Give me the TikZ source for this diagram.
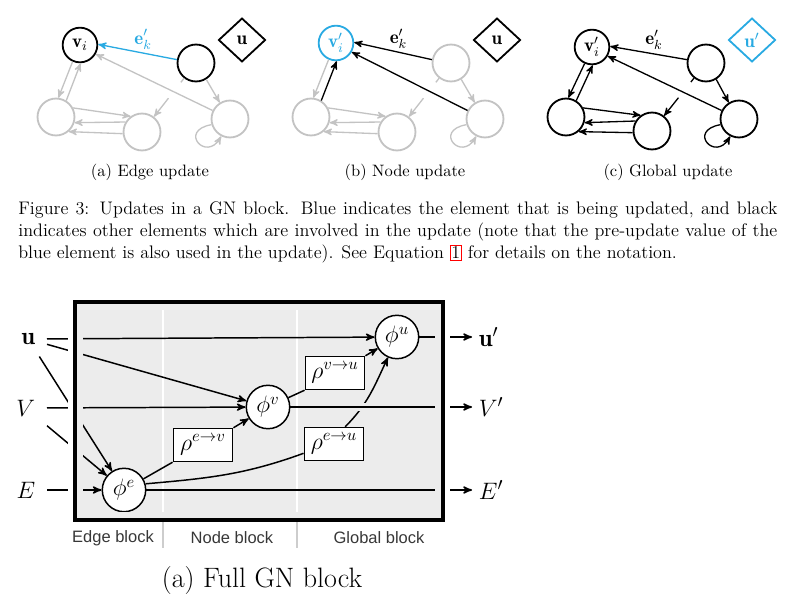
\documentclass[tikz,border=0pt]{standalone}
\usepackage{amsmath}
\usepackage{amssymb}
\usepackage{fontspec}
\usepackage{tikz}
\usetikzlibrary{arrows,shapes.geometric,calc}
\newfontfamily\blockfont{Liberation Sans}
\definecolor{gnblue}{RGB}{41,170,226}
\definecolor{gnlight}{RGB}{195,195,195}
\definecolor{gnfill}{RGB}{236,236,236}
\definecolor{gnrule}{RGB}{205,205,205}
\definecolor{gntext}{RGB}{55,55,55}

\begin{document}
\begin{tikzpicture}[x=0.606pt, y=0.606pt, inner sep=0pt, >=stealth']
    \tikzstyle{vtx}=[circle, draw=black, line width=1.1pt, minimum size=22.4pt, font=\fontsize{11.5}{14}\selectfont]
    \tikzstyle{vtxg}=[vtx, draw=gnlight]
    \tikzstyle{glob}=[diamond, draw=black, line width=1.1pt, minimum width=28.5pt, minimum height=26.5pt, font=\fontsize{11.5}{14}\selectfont]
    \tikzstyle{sub}=[font=\fontsize{10}{12}\selectfont]
    \tikzstyle{Ik}=[->, draw=black, line width=0.8pt]
    \tikzstyle{Ig}=[->, draw=gnlight, line width=0.8pt]
    \tikzstyle{Ib}=[->, gnblue, line width=0.8pt]
    \tikzstyle{lab}=[above=2pt, pos=0.43, font=\fontsize{11.5}{14}\selectfont]
    \tikzstyle{phi}=[circle, draw=black, fill=white, line width=0.9pt, minimum size=26.3pt, font=\fontsize{14}{16}\selectfont]
    \tikzstyle{rho}=[rectangle, draw=black, fill=white, line width=0.9pt, minimum width=36pt, minimum height=20pt, font=\fontsize{14}{16}\selectfont]
    \tikzstyle{io}=[inner sep=7pt, font=\fontsize{15}{17}\selectfont]
    \tikzstyle{oi}=[inner sep=4pt, font=\fontsize{15}{17}\selectfont]
    \tikzstyle{W}=[->, line width=0.9pt]
    \tikzstyle{L}=[line width=0.9pt]
    \tikzstyle{blk}=[font=\blockfont\fontsize{10}{12}\selectfont, text=gntext]

    \useasboundingbox (0,0) rectangle (791,-599);

    % (a) edge update
    \node[vtx, minimum size=21pt] (Va) at (80,-45) {$\mathbf{v}_i$};
    \node[vtx] (Ta) at (196,-63) {};
    \node[vtxg] (La) at (56,-117) {};
    \node[vtxg] (Ma) at (142,-132) {};
    \node[vtxg] (Ra) at (230,-119) {};
    \node[glob] (Ua) at (242,-40) {$\mathbf{u}$};
    \node[sub] (Ca) at (150,-172) {(a) Edge update};

    \draw[Ib] (Ta.170) -- (Va.2) node[lab] {$\mathbf{e}'_k$};
    \draw[Ig] (Ra.154) -- (Va.-30);
    \draw[Ig] (La.58) -- (Va.272);
    \draw[Ig] (Va.246) -- (La.83);
    \draw[Ig] (La.28) -- (Ma.126);
    \draw[Ig] (Ma.149) -- (La.-17);
    \draw[Ig] (Ma.185) -- (La.-49);
    \draw[Ig] (Ta.-58) -- (Ra.122);
    \draw[gnlight, line width=0.8pt] (Ta) -- ($(Ta)!0.28!(Ma)$);
    \draw[Ig] ($(Ta)!0.51!(Ma)$) -- (Ma);
    \draw[Ig] (Ra.197) .. controls +(190:34) and +(240:30) .. (Ra.243);

    % (b) node update
    \node[vtx, draw=gnblue, text=gnblue, minimum size=21pt] (Vb) at (336,-43) {$\mathbf{v}'_i$};
    \node[vtxg] (Tb) at (451,-63) {};
    \node[vtxg] (Lb) at (311,-117) {};
    \node[vtxg] (Mb) at (397,-132) {};
    \node[vtxg] (Rb) at (485,-119) {};
    \node[glob] (Ub) at (497,-40) {$\mathbf{u}$};
    \node[sub] (Cb) at (405,-172) {(b) Node update};

    \draw[Ik] (Tb.170) -- (Vb.2) node[lab] {$\mathbf{e}'_k$};
    \draw[Ik] (Rb.154) -- (Vb.-30);
    \draw[Ik] (Lb.58) -- (Vb.272);
    \draw[Ig] (Vb.246) -- (Lb.83);
    \draw[Ig] (Lb.28) -- (Mb.126);
    \draw[Ig] (Mb.149) -- (Lb.-17);
    \draw[Ig] (Mb.185) -- (Lb.-49);
    \draw[Ig] (Tb.-58) -- (Rb.122);
    \draw[gnlight, line width=0.8pt] (Tb) -- ($(Tb)!0.28!(Mb)$);
    \draw[Ig] ($(Tb)!0.51!(Mb)$) -- (Mb);
    \draw[Ig] (Rb.197) .. controls +(190:34) and +(240:30) .. (Rb.243);

    % (c) global update
    \node[vtx, minimum size=21pt] (Vc) at (592,-47) {$\mathbf{v}'_i$};
    \node[vtx] (Tc) at (706,-63) {};
    \node[vtx] (Lc) at (566,-117) {};
    \node[vtx] (Mc) at (652,-131) {};
    \node[vtx] (Rc) at (739,-119) {};
    \node[glob, draw=gnblue, text=gnblue] (Uc) at (752,-40) {$\mathbf{u}'$};
    \node[sub] (Cc) at (668,-172) {(c) Global update};

    \draw[Ik] (Tc.170) -- (Vc.2) node[lab] {$\mathbf{e}'_k$};
    \draw[Ik] (Rc.154) -- (Vc.-30);
    \draw[Ik] (Lc.58) -- (Vc.272);
    \draw[Ik] (Vc.246) -- (Lc.83);
    \draw[Ik] (Lc.28) -- (Mc.126);
    \draw[Ik] (Mc.149) -- (Lc.-17);
    \draw[Ik] (Mc.185) -- (Lc.-49);
    \draw[Ik] (Tc.-58) -- (Rc.122);
    \draw[black, line width=0.8pt] (Tc) -- ($(Tc)!0.28!(Mc)$);
    \draw[Ik] ($(Tc)!0.51!(Mc)$) -- (Mc);
    \draw[Ik] (Rc.197) .. controls +(190:34) and +(240:30) .. (Rc.243);

    % caption
    \node[text width=460pt, align=justify, anchor=north west, font=\fontsize{11}{13.6}\selectfont] (cap) at (18,-201)
        {Figure 3: Updates in a GN block. Blue indicates the element that is being updated, and black\linebreak
         indicates other elements which are involved in the update (note that the pre-update value of the\linebreak
         blue element is also used in the update). See Equation {\fboxsep=0.6pt\fboxrule=0.4pt\fcolorbox{red}{white}{1}} for details on the notation.};

    % full GN block
    \fill[gnfill] (75,-302) rectangle (443,-520);
    \draw[white, line width=1.6pt] (163,-302) -- (163,-520);
    \draw[white, line width=1.6pt] (297,-302) -- (297,-520);

    \node[io, anchor=east] (u) at (47,-339) {$\mathbf{u}$};
    \node[io, anchor=east] (V) at (47,-408) {$V$};
    \node[io, anchor=east] (E) at (47,-490) {$E$};
    \node[phi] (phie) at (124,-490) {$\phi^e$};
    \node[phi] (phiv) at (268,-407) {$\phi^v$};
    \node[phi] (phiu) at (397,-337) {$\phi^u$};
    \node[rho] (rhoev) at (203,-445) {$\rho^{e\rightarrow v}$};
    \node[rho] (rhovu) at (335,-373) {$\rho^{v\rightarrow u}$};
    \node[rho] (rhoeu) at (334,-444) {$\rho^{e\rightarrow u}$};
    \node[oi, anchor=west] (uo) at (472,-337) {$\mathbf{u}'$};
    \node[oi, anchor=west] (Vo) at (472,-407) {$V'$};
    \node[oi, anchor=west] (Eo) at (472,-490) {$E'$};

    \draw[W] (u) -- (phiu);
    \draw[W] (u) -- (phiv);
    \draw[W] (u) -- (phie);
    \draw[W] (V) -- (phiv);
    \draw[W] (V) -- (phie);
    \draw[W] (E) -- (phie);
    \draw[L] (phie) -- (rhoev.south west);
    \draw[W] (rhoev.north east) -- (phiv);
    \draw[L] (phie.16) to[out=5, in=200] (rhoeu.197);
    \draw[L] (phiv) -- (rhovu.south west);
    \draw[W] (rhovu.north east) -- (phiu);
    \draw[W] (rhoeu.57) to[out=45, in=245] (phiu.246);
    \draw[gnfill, line width=5pt] (352,-407) -- (374,-407);
    \draw[W] (phiv) -- (Vo);
    \draw[W] (phiu) -- (uo);
    \draw[W] (phie) -- (Eo);

    % gaps at the border
    \draw[white, line width=3.3pt] (70.8,-297.8) rectangle (447.2,-524.2);
    \draw[gnfill, line width=4.2pt] (80,-307) rectangle (438,-515);
    \draw[line width=2pt] (75,-302) rectangle (443,-520);
    \draw[gnrule, line width=1.8pt] (163,-522) -- (163,-548);
    \draw[gnrule, line width=1.8pt] (297,-522) -- (297,-548);

    \node[blk] (eb) at (113,-538) {Edge block};
    \node[blk] (nb) at (232,-538) {Node block};
    \node[blk] (gb) at (379,-538) {Global block};
    \node[font=\fontsize{17}{20}\selectfont] (full) at (262,-580) {(a) Full GN block};
\end{tikzpicture}
\end{document}
